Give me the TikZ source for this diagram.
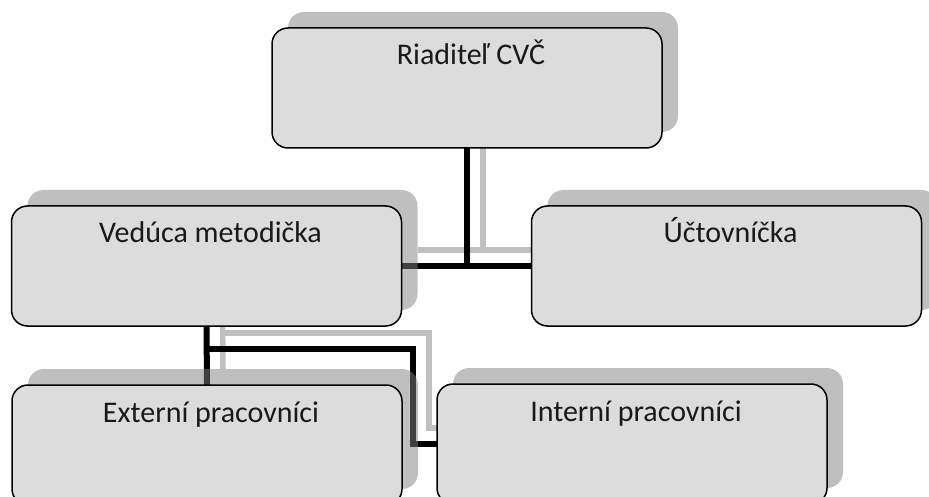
\documentclass[tikz,border=0pt]{standalone}
\usepackage{fontspec}
\setmainfont{Carlito}
\pgfdeclarelayer{lines}
\pgfsetlayers{lines,main}
\definecolor{boxfill}{HTML}{DCDCDC}
\definecolor{glinecol}{HTML}{C0C0C0}
\begin{document}
\begin{tikzpicture}[x=1pt,y=-1pt,
  box/.style={draw=black, line width=1.5pt, fill=boxfill, rounded corners=16pt,
    minimum width=390pt, minimum height=120pt, inner sep=0pt, outer sep=0pt},
  shadowbox/.style={fill=black!50, fill opacity=0.5, rounded corners=16pt,
    minimum width=390pt, minimum height=120pt, inner sep=0pt, outer sep=0pt},
  lbl/.style={anchor=base, font=\fontsize{30}{36}\selectfont, inner sep=0pt, text=black!90},
  link/.style={line width=6pt, draw=black},
  glink/.style={line width=5.5pt, draw=glinecol}]
\useasboundingbox (0,0) rectangle (929,497);
\clip (0,0) rectangle (929,497);
% shadows
\node[shadowbox] (topS) at (483,72) {};
\node[shadowbox] (vmS) at (222.5,250) {};
\node[shadowbox] (ucS) at (742.5,250) {};
\node[shadowbox] (extS) at (223,429) {};
\node[shadowbox] (intS) at (648,428) {};
% boxes
\node[box] (top) at (467,88) {};
\node[box] (vm) at (206.5,266) {};
\node[box] (uc) at (726.5,266) {};
\node[box] (ext) at (207,445) {};
\node[box] (int) at (632,444) {};
% labels
\node[lbl] (tTop) at ([xshift=4pt,yshift=-37pt]top.north) {Riaditeľ CVČ};
\node[lbl] (tVm) at ([xshift=4pt,yshift=-37pt]vm.north) {Vedúca metodička};
\node[lbl] (tUc) at ([xshift=4pt,yshift=-37pt]uc.north) {Účtovníčka};
\node[lbl] (tExt) at ([xshift=4pt,yshift=-37pt]ext.north) {Externí pracovníci};
\node[lbl] (tInt) at ([xshift=4pt,yshift=-37pt]int.north) {Interní pracovníci};
% connectors
\coordinate (gA) at (429,333);
\coordinate (bA) at (413,349);
\begin{pgfonlayer}{lines}
\draw[glink] (topS.south) -- (topS.south |- vmS.east);
\draw[glink] (vmS.east) -- (ucS.west);
\draw[glink] (vmS.south) -- (extS.north);
\draw[glink] (vmS.south |- gA) -- (gA) -- (gA |- intS.west) -- (intS.west);
\draw[link] (top.south) -- (top.south |- vm.east);
\draw[link] (vm.east) -- (uc.west);
\draw[link] (vm.south) -- (ext.north);
\draw[link] (vm.south |- bA) -- (bA) -- (bA |- int.west) -- (int.west);
\end{pgfonlayer}
\end{tikzpicture}
\end{document}
